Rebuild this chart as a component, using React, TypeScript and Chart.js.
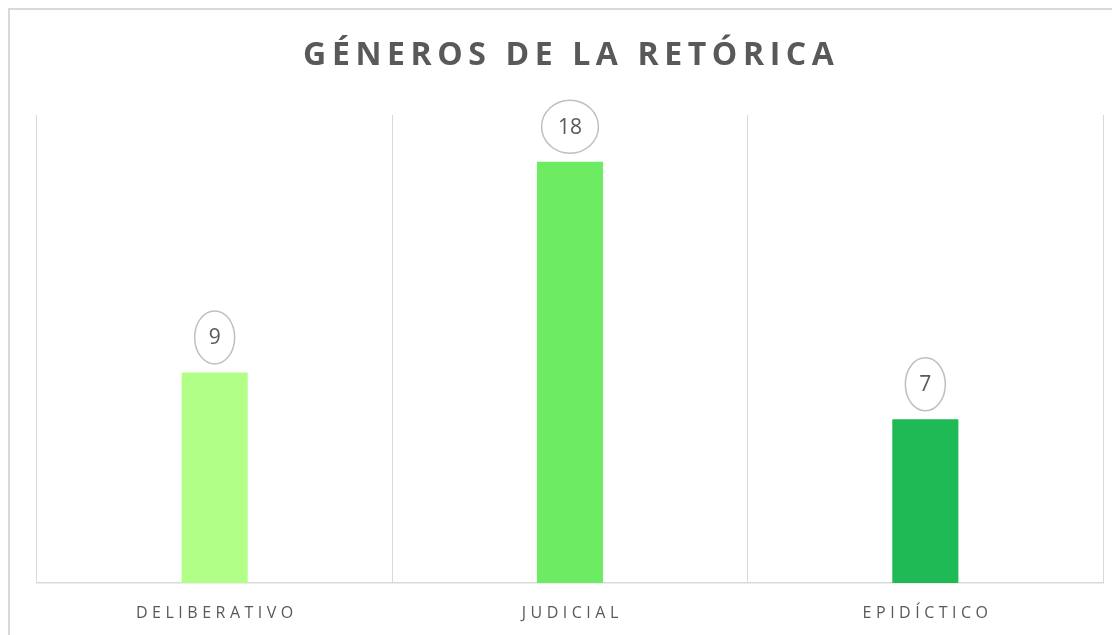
import React, { useEffect, useRef } from "react";
import { Chart, registerables } from "chart.js";

Chart.register(...registerables);

const TITLE = "GÉNEROS DE LA RETÓRICA";
const categories = ["DELIBERATIVO", "JUDICIAL", "EPIDÍCTICO"];
const values = [9, 18, 7];
const barColors = ["#b2ff88", "#6deb63", "#1fba55"];
const yMax = 20;

const TEXT = "#595959";
const FONT = "'Open Sans', 'Noto Sans', sans-serif";

const decorPlugin = {
  id: "decor",
  beforeDraw(chart: any) {
    const ctx = chart.ctx;
    ctx.save();
    ctx.fillStyle = "#ffffff";
    ctx.fillRect(0, 0, chart.width, chart.height);
    ctx.strokeStyle = "#d9d9d9";
    ctx.lineWidth = 2;
    ctx.beginPath();
    ctx.moveTo(1, chart.height + 5);
    ctx.lineTo(1, 1);
    ctx.lineTo(chart.width + 5, 1);
    ctx.stroke();
    ctx.restore();
  },
  afterDraw(chart: any) {
    const ctx = chart.ctx;
    const area = chart.chartArea;
    ctx.save();
    // title
    ctx.fillStyle = TEXT;
    ctx.font = `bold 32px ${FONT}`;
    (ctx as any).letterSpacing = "5.6px";
    ctx.textAlign = "center";
    ctx.textBaseline = "middle";
    ctx.fillText(TITLE, (area.left + area.right) / 2 + 2.8 - 1.5, 48);

    // category labels
    const xs = chart.scales.x;
    ctx.font = `16px ${FONT}`;
    (ctx as any).letterSpacing = "4.5px";
    categories.forEach((c, i) => {
      const x = xs.getPixelForValue(i);
      ctx.fillText(c, x + 2.25, area.bottom + 30);
    });

    // data labels in ovals
    (ctx as any).letterSpacing = "0px";
    const meta = chart.getDatasetMeta(0);
    ctx.font = `21px ${FONT}`;
    meta.data.forEach((bar: any, i: number) => {
      const txt = String(values[i]);
      const tw = ctx.measureText(txt).width;
      const cx = bar.x;
      const cy = bar.y - 35;
      const rx = tw * 0.7 + 11.6;
      const ry = 26.5;
      ctx.beginPath();
      ctx.ellipse(cx, cy, rx, ry, 0, 0, Math.PI * 2);
      ctx.fillStyle = "#ffffff";
      ctx.fill();
      ctx.strokeStyle = "#bfbfbf";
      ctx.lineWidth = 1.5;
      ctx.stroke();
      ctx.fillStyle = TEXT;
      ctx.fillText(txt, cx, cy + 1);
    });
    ctx.restore();
  },
};

export default function App() {
  const ref = useRef<HTMLCanvasElement | null>(null);
  useEffect(() => {
    if (!ref.current) return;
    const chart = new Chart(ref.current, {
      type: "bar",
      data: {
        labels: categories,
        datasets: [
          {
            data: values,
            backgroundColor: barColors,
            borderWidth: 0,
            barPercentage: 0.186,
            categoryPercentage: 1,
          },
        ],
      },
      options: {
        animation: false,
        responsive: false,
        layout: { padding: { left: 29, right: 17, top: 107, bottom: 52 } },
        plugins: {
          legend: { display: false },
          title: { display: false },
          tooltip: { enabled: false },
        },
        scales: {
          x: {
            display: true,
            ticks: { display: false },
            grid: {
              display: true,
              offset: true,
              color: "#d9d9d9",
              lineWidth: 1,
              drawTicks: false,
            },
            border: { display: true, color: "#d9d9d9", width: 1.5 },
          },
          y: {
            display: false,
            min: 0,
            max: yMax,
          },
        },
      },
      plugins: [decorPlugin],
    });
    return () => chart.destroy();
  }, []);
  return (
    <div style={{ width: 1112, height: 627 }}>
      <canvas ref={ref} width={1112} height={627} style={{ display: "block" }} />
    </div>
  );
}
